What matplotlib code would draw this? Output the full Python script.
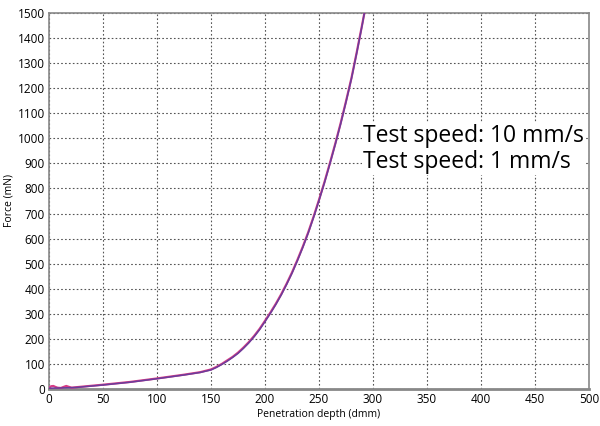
import numpy as np
import matplotlib.pyplot as plt

# Penetration depth (dmm) and force (mN)
depth_fast = [0, 2, 4, 6, 8, 11, 14, 16, 18, 21, 25, 35, 50, 75, 100, 125, 140, 150,
              155, 160, 165, 170, 175, 180, 185, 190, 195, 200, 205, 210, 215, 220,
              225, 230, 235, 240, 245, 250, 255, 260, 265, 270, 275, 280, 285, 290, 292]
force_fast = [5, 11, 12, 8, 5, 4, 9, 12, 9, 5, 7, 11, 17, 28, 42, 57, 67, 78,
              88, 100, 114, 128, 145, 165, 187, 212, 240, 272, 305, 340, 378, 420,
              465, 515, 568, 625, 688, 755, 825, 900, 978, 1060, 1148, 1240, 1345, 1455, 1500]
depth_slow = [0, 10, 25, 35, 50, 75, 100, 125, 140, 150, 155, 160, 165, 170, 175, 180,
              185, 190, 195, 200, 205, 210, 215, 220, 225, 230, 235, 240, 245, 250, 255,
              260, 265, 270, 275, 280, 285, 290, 292]
force_slow = [3, 4, 6, 10, 16, 27, 41, 56, 66, 76, 86, 98, 111, 126, 142, 162,
              184, 209, 237, 269, 302, 337, 375, 417, 462, 512, 565, 622, 685, 752, 822,
              897, 975, 1057, 1145, 1237, 1342, 1452, 1500]

legend_labels = ['Test speed: 10 mm/s', 'Test speed: 1 mm/s']

plt.rcParams['font.family'] = ['Open Sans', 'DejaVu Sans']

fig = plt.figure(figsize=(6, 4.26), dpi=100)
ax = fig.add_axes([0.0817, 0.0869, 0.9, 0.8826])

ax.plot(depth_fast, force_fast, color='#d63c86', lw=1.6, zorder=3)
ax.plot(depth_slow, force_slow, color='#6a3c9c', lw=1.1, zorder=4)

ax.set_xlim(0, 500)
ax.set_ylim(0, 1500)
ax.set_xticks(np.arange(0, 501, 50))
ax.set_yticks(np.arange(0, 1501, 100))
ax.grid(True, linestyle=(0, (1.5, 2)), color='#555555', lw=0.8)
ax.tick_params(length=0, labelsize=8.5, pad=3)
for sp in ax.spines.values():
    sp.set_color('#888888')
    sp.set_linewidth(1.2)
ax.spines['bottom'].set_linewidth(2)
ax.set_xlabel('Penetration depth (dmm)', fontsize=7.5, labelpad=2)
ax.set_ylabel('Force (mN)', fontsize=7.5, labelpad=2)

ax.text(0.582, 0.706, legend_labels[0] + '\n' + legend_labels[1], transform=ax.transAxes,
        fontsize=16.5, va='top', ha='left', linespacing=1.12, zorder=5,
        bbox=dict(facecolor='white', edgecolor='none', pad=1))

fig.savefig('out.png', dpi=100)
